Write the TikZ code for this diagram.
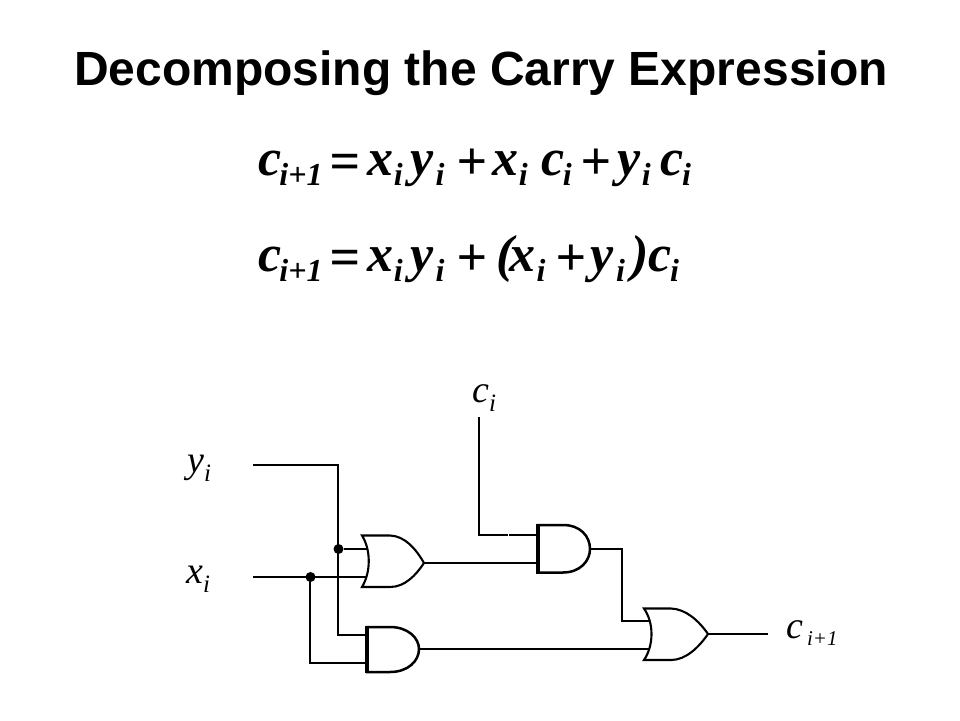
\documentclass[tikz,border=0pt]{standalone}
\usepackage{fontspec}
\setmainfont{Liberation Serif}
\newfontfamily\titlefont{Liberation Sans}
\newcommand{\bsub}[1]{\raisebox{-0.2em}{\fontsize{32}{32}\selectfont #1}}
\newcommand{\lsub}[1]{\raisebox{-0.25em}{\fontsize{25}{25}\selectfont #1}}
\newcommand{\csub}[1]{\raisebox{-0.2em}{\fontsize{21}{21}\selectfont #1}}
\newcommand{\gp}[1]{\kern #1pt\relax}
\newcommand{\bop}[1]{\raisebox{-4pt}{\fontsize{54}{54}\selectfont #1}}
\tikzset{
  wire/.style={line width=2pt,line join=miter,line cap=butt},
  gateline/.style={line width=2.1pt,line join=miter,fill=white},
  andline/.style={line width=2.5pt,line join=miter,fill=white},
  thickside/.style={line width=3.8pt},
  joint/.style={circle,fill=black,inner sep=0pt,minimum size=10pt},
  titletext/.style={inner sep=0pt,anchor=base,font=\titlefont\bfseries\fontsize{48}{48}\selectfont},
  eqtext/.style={inner sep=0pt,anchor=base west,font=\bfseries\itshape\fontsize{52}{52}\selectfont},
  sigtext/.style={inner sep=0pt,anchor=base west,font=\itshape\fontsize{38}{38}\selectfont}
}
\begin{document}
\begin{tikzpicture}[x=1pt,y=-1pt]
\useasboundingbox[fill=white] (0,0) rectangle (960,720);
\node[titletext] (title) at (481,85) {Decomposing the Carry Expression};
\node[eqtext] (eqa) at (258,175) {c\gp{-1.8}\bsub{i+1}\gp{6.5}\bop{=}\gp{8}x\bsub{i}\gp{7.5}y\gp{2.2}\bsub{i}\gp{11.6}\bop{+}\gp{6}x\bsub{i}\gp{14}c\gp{-1.8}\bsub{i}\gp{9}\bop{+}\gp{6}y\gp{1.2}\bsub{i}\gp{10}c\gp{-1.8}\bsub{i}};
\node[eqtext] (eqb) at (258,271) {c\gp{-1.8}\bsub{i+1}\gp{6.5}\bop{=}\gp{8}x\bsub{i}\gp{7.5}y\gp{2.2}\bsub{i}\gp{11.6}\bop{+}\gp{10}(\gp{-4.5}x\gp{1}\bsub{i}\gp{9.6}\bop{+}\gp{5}y\gp{2.2}\bsub{i}\gp{6})\gp{0.5}c\gp{-1.8}\bsub{i}};
% signals
\node[sigtext] (ylab) at (187,472) {y\lsub{i}};
\node[sigtext] (xlab) at (186,583) {x\lsub{i}};
\node[sigtext] (clab) at (472,402) {c\lsub{i}};
\node[sigtext] (colab) at (786,638) {c\gp{4}\csub{i+1}};
% pins
\coordinate (yin) at (253,465);
\coordinate (xin) at (253,577);
\coordinate (cin) at (479,417);
\coordinate (cout) at (768,634);
\coordinate (orAa) at (367,549);
\coordinate (orAb) at (367,577);
\coordinate (orAo) at (424,563);
\coordinate (andBa) at (367,635);
\coordinate (andBb) at (367,663);
\coordinate (andBo) at (419,649);
\coordinate (andAa) at (538,535);
\coordinate (andAb) at (538,563);
\coordinate (andAo) at (590,549);
\coordinate (orBa) at (649,621);
\coordinate (orBb) at (649,649);
\coordinate (orBo) at (708,634);
\coordinate (ybend) at (338,465);
\coordinate (xdrop) at (310,663);
\coordinate (cbend) at (479,535);
\coordinate (cgap) at (508,535);
\coordinate (cgapb) at (509,535);
\coordinate (aobend) at (622,549);
\coordinate (aobendb) at (622,621);
\node[joint] (jy) at (338.5,549) {};
\node[joint] (jx) at (310.5,577) {};
% wires
\draw[wire] (yin) -- (ybend) -- (ybend |- andBa) -- (andBa);
\draw[wire] (jy) -- (orAa);
\draw[wire] (xin) -- (orAb);
\draw[wire] (xdrop |- jx) -- (xdrop) -- (andBb);
\draw[wire] (cin) -- (cbend) -- (cgap);
\draw[wire] (cgapb) -- (andAa);
\draw[wire] (orAo) -- (andAb);
\draw[wire] (andAo) -- (aobend) -- (aobendb) -- (orBa);
\draw[wire] (andBo) -- (orBb);
\draw[wire] (orBo) -- (cout);
% OR gates
\draw[gateline] (362,535.5) -- (390,535.5) .. controls (405,536) and (416,549) .. (orAo)
  .. controls (416,575) and (405,587) .. (390,587) -- (362,587)
  .. controls (371,572) and (371,550) .. cycle;
\draw[gateline] (644,608.5) -- (671,608.5) .. controls (686,609) and (699,621) .. (orBo)
  .. controls (699,647) and (686,660) .. (671,660) -- (644,660)
  .. controls (654,645) and (654,623) .. cycle;
% AND gates
\draw[andline] (367,627) -- (390,627) .. controls (408,627) and (419,638) .. (andBo)
  .. controls (419,661) and (408,672) .. (390,672) -- (367,672) -- cycle;
\draw[thickside] (367,625.8) -- (367,673.2);
\draw[andline] (538,525) -- (563,525) .. controls (580,525) and (590,536) .. (andAo)
  .. controls (590,561) and (580,572.5) .. (563,572.5) -- (538,572.5) -- cycle;
\draw[thickside] (538,523.8) -- (538,573.7);
\end{tikzpicture}
\end{document}
